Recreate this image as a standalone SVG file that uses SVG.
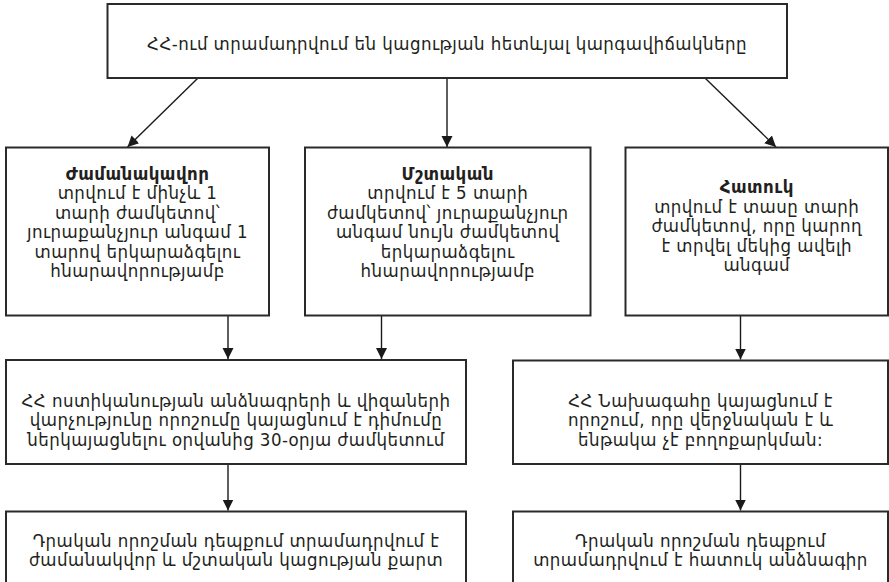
<svg xmlns="http://www.w3.org/2000/svg" width="889" height="582" viewBox="0 0 889 582">
<defs>
<marker id="ah" viewBox="0 0 10 10" refX="10" refY="5" markerWidth="11" markerHeight="15" markerUnits="userSpaceOnUse" orient="auto">
<path d="M0,0 L10,5 L0,10 z" fill="#1a1a1a"/>
</marker>
<style>
.box{fill:#fff;stroke:#2a2a2a;stroke-width:2}
.t{font-family:"DejaVu Sans Condensed","DejaVu Sans",sans-serif;font-stretch:condensed;font-size:18.5px;letter-spacing:0.45px;fill:#231f20;text-anchor:middle}
.b{font-weight:bold}
.c{stroke:#1a1a1a;stroke-width:1.4;fill:none;marker-end:url(#ah)}
</style>
</defs>
<rect width="889" height="582" fill="#fff"/>
<g id="connectors">
<line class="c" x1="198" y1="78" x2="127.5" y2="147"/>
<line class="c" x1="447" y1="78" x2="447" y2="147"/>
<line class="c" x1="705" y1="78" x2="776" y2="147"/>
<line class="c" x1="228" y1="316" x2="228" y2="359"/>
<line class="c" x1="381.5" y1="316" x2="381.5" y2="359"/>
<line class="c" x1="740.5" y1="316" x2="740.5" y2="359.5"/>
<line class="c" x1="228" y1="464" x2="228" y2="510.5"/>
<line class="c" x1="740.5" y1="464" x2="740.5" y2="510.5"/>
</g>
<g id="top">
<rect class="box" x="107.5" y="4" width="679.5" height="74"/>
<text class="t" x="447" y="49.5">ՀՀ-ում տրամադրվում են կացության հետևյալ կարգավիճակները</text>
</g>
<g id="temporary">
<rect class="box" x="6" y="147.5" width="263" height="168"/>
<text class="t" x="137.5" y="179.5"><tspan class="b">Ժամանակավոր</tspan><tspan x="137.5" dy="19.5">տրվում է մինչև 1</tspan><tspan x="137.5" dy="19.5">տարի ժամկետով՝</tspan><tspan x="137.5" dy="19.5">յուրաքանչյուր անգամ 1</tspan><tspan x="137.5" dy="19.5">տարով երկարաձգելու</tspan><tspan x="137.5" dy="19.5">հնարավորությամբ</tspan></text>
</g>
<g id="permanent">
<rect class="box" x="305" y="147.5" width="285.5" height="168"/>
<text class="t" x="447.75" y="179.5"><tspan class="b">Մշտական</tspan><tspan x="447.75" dy="19.5">տրվում է 5 տարի</tspan><tspan x="447.75" dy="19.5">ժամկետով՝ յուրաքանչյուր</tspan><tspan x="447.75" dy="19.5">անգամ նույն ժամկետով</tspan><tspan x="447.75" dy="19.5">երկարաձգելու</tspan><tspan x="447.75" dy="19.5">հնարավորությամբ</tspan></text>
</g>
<g id="special">
<rect class="box" x="625.5" y="147.5" width="262.5" height="168"/>
<text class="t" x="756.75" y="193"><tspan class="b">Հատուկ</tspan><tspan x="756.75" dy="19.5">տրվում է տասը տարի</tspan><tspan x="756.75" dy="19.5">ժամկետով, որը կարող</tspan><tspan x="756.75" dy="19.5">է տրվել մեկից ավելի</tspan><tspan x="756.75" dy="19.5">անգամ</tspan></text>
</g>
<g id="police">
<rect class="box" x="6" y="360" width="460" height="104"/>
<text class="t" x="236" y="406.5"><tspan>ՀՀ ոստիկանության անձնագրերի և վիզաների</tspan><tspan x="236" dy="19.5">վարչությունը որոշումը կայացնում է դիմումը</tspan><tspan x="236" dy="19.5">ներկայացնելու օրվանից 30-օրյա ժամկետում</tspan></text>
</g>
<g id="president">
<rect class="box" x="513" y="360.5" width="375" height="103.5"/>
<text class="t" x="700.5" y="406.5"><tspan>ՀՀ Նախագահը կայացնում է</tspan><tspan x="700.5" dy="19.5">որոշում, որը վերջնական է և</tspan><tspan x="700.5" dy="19.5">ենթակա չէ բողոքարկման:</tspan></text>
</g>
<g id="card">
<rect class="box" x="6" y="511.5" width="460" height="80"/>
<text class="t" x="236" y="546.5"><tspan>Դրական որոշման դեպքում տրամադրվում է</tspan><tspan x="236" dy="19.5">ժամանակվոր և մշտական կացության քարտ</tspan></text>
</g>
<g id="passport">
<rect class="box" x="513" y="511.5" width="375" height="80"/>
<text class="t" x="700.5" y="546.5"><tspan>Դրական որոշման դեպքում</tspan><tspan x="700.5" dy="19.5">տրամադրվում է հատուկ անձնագիր</tspan></text>
</g>
</svg>
